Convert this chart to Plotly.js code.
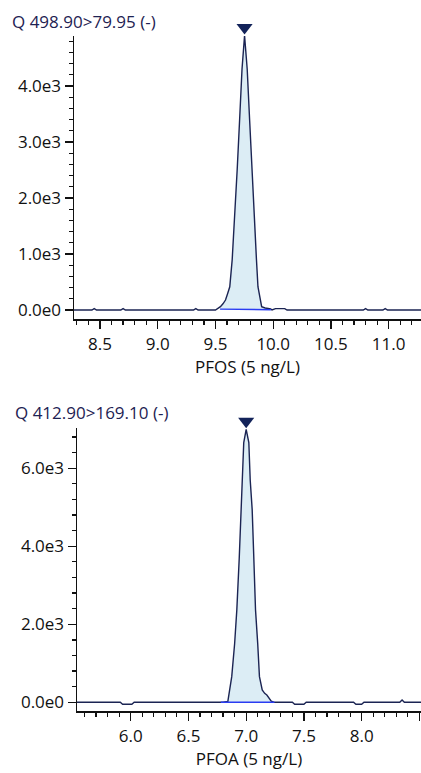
<!DOCTYPE html>
<html><head><meta charset="utf-8">
<script src="https://cdn.plot.ly/plotly-3.0.1.min.js"></script>
<style>html,body{margin:0;padding:0;background:#fff}#c{width:421px;height:773px}</style>
</head><body><div id="c"></div>
<script>
// PFOS chromatogram (retention time, min ; intensity)
const pfosTime = [8.27,8.43,8.45,8.47,8.68,8.70,8.72,9.31,9.33,9.35,9.50,9.526,9.543,9.565,9.587,9.605,9.624,9.645,9.665,9.688,9.709,9.73,9.752,9.775,9.796,9.817,9.839,9.855,9.868,9.877,9.891,9.90,9.93,9.978,9.99,10.0,10.02,10.10,10.12,10.78,10.80,10.82,10.95,10.97,10.99,11.28];
const pfosInt  = [0,0,25,0,0,25,0,0,25,0,0,30,60,110,178,290,415,900,1600,2500,3390,4300,4900,4300,3390,2400,1600,900,415,297,120,60,35,20,0,10,25,25,0,0,25,0,0,25,0,0];
const pfosBaseT = [9.54, 9.98];
const pfosBaseI = [15, 5];
const pfosTicks = [0,1000,2000,3000,4000];
const pfosTickText = ["0.0e0","1.0e3","2.0e3","3.0e3","4.0e3"];

// PFOA chromatogram
const pfoaTime = [5.535,5.91,5.93,6.01,6.03,6.80,6.841,6.855,6.875,6.90,6.919,6.94,6.959,6.979,7.0,7.023,7.035,7.052,7.065,7.081,7.10,7.115,7.139,7.16,7.179,7.20,7.217,7.245,7.40,7.42,7.50,7.52,7.93,7.95,8.00,8.02,8.33,8.35,8.37,8.514];
const pfoaInt  = [0,0,-50,-50,0,0,20,316,658,1500,2370,3700,4940,6660,7000,6660,5700,4940,3800,2370,1500,658,316,230,188,90,30,0,0,-50,-50,0,0,-50,-50,0,0,60,0,0];
const pfoaBaseT = [6.78, 7.245];
const pfoaBaseI = [0, 0];
const pfoaTicks = [0,2000,4000,6000];
const pfoaTickText = ["0.0e0","2.0e3","4.0e3","6.0e3"];

const titles = ["Q 498.90>79.95 (-)", "Q 412.90>169.10 (-)"];
const xTitles = ["PFOS (5 ng/L)", "PFOA (5 ng/L)"];

const navy = "#1b2453", fillC = "#dcedf5", blue = "#2a3cf2", font = "Open Sans, sans-serif";
const H = 773;

function peakTraces(t, v, bt, bi, xa, ya, ma, offPx, pxPerUnit) {
  const pt = [], pv = [];
  for (let i = 0; i < t.length; i++) if (t[i] >= bt[0] && t[i] <= bt[1]) { pt.push(t[i]); pv.push(Math.max(v[i], 0)); }
  let im = 0; for (let i = 1; i < v.length; i++) if (v[i] > v[im]) im = i;
  return [
    {x: pt, y: pv, xaxis: xa, yaxis: ya, mode: "lines", fill: "tozeroy", fillcolor: fillC, line: {width: 0}, hoverinfo: "skip"},
    {x: t, y: v, xaxis: xa, yaxis: ya, mode: "lines", line: {color: navy, width: 1.4}},
    {x: bt, y: bi, xaxis: xa, yaxis: ya, mode: "lines", line: {color: blue, width: 1.4}},
    {x: [t[im]], y: [v[im] + offPx / pxPerUnit], xaxis: xa, yaxis: ma, mode: "markers", cliponaxis: false,
     marker: {symbol: "triangle-down", size: 14, color: "#13235a", line: {width: 0}}}
  ];
}

// plot geometry (pixels from top)
const g1 = {bottom: 319, top: 36, range: [-161, 4893], markTop: 0};
const g2 = {bottom: 711, top: 428, range: [-223, 7033], markTop: 380};
function ppu(g) { return (g.bottom - g.top) / (g.range[1] - g.range[0]); }
function markRange(g) { return [g.range[0], g.range[0] + (g.bottom - g.markTop) / ppu(g)]; }

const data = [].concat(
  peakTraces(pfosTime, pfosInt, pfosBaseT, pfosBaseI, "x", "y", "y3", 8, ppu(g1)),
  peakTraces(pfoaTime, pfoaInt, pfoaBaseT, pfoaBaseI, "x2", "y2", "y4", 8, ppu(g2))
);

const tickFont = {family: font, size: 17, color: "#111"};
function xax(domain, range, title, anchor) {
  return {domain, range, anchor, showline: true, linecolor: "#111", linewidth: 1.5, showgrid: false, zeroline: false,
    ticks: "outside", ticklen: 8, tickwidth: 1.2, tickcolor: "#111", dtick: 0.5, tick0: 0, tickformat: ".1f",
    tickfont: tickFont, ticklabelstandoff: 1,
    minor: {ticks: "outside", ticklen: 4, tickwidth: 1.2, tickcolor: "#111", dtick: 0.1, tick0: 0},
    title: {text: title, font: {family: font, size: 17, color: "#111"}, standoff: 3}};
}
function yax(g, vals, texts, minorD, anchor) {
  return {domain: [1 - g.bottom / H, 1 - g.top / H], range: g.range, anchor, showline: true, linecolor: "#111", linewidth: 1.5,
    showgrid: false, zeroline: false,
    ticks: "outside", ticklen: 8, tickwidth: 1.2, tickcolor: "#111", tickmode: "array", tickvals: vals, ticktext: texts,
    tickfont: tickFont,
    minor: {ticks: "outside", ticklen: 4, tickwidth: 1.2, tickcolor: "#111", dtick: minorD, tick0: 0, tickmode: "linear"}};
}
function hiddenY(g, anchor) {
  return {domain: [1 - g.bottom / H, 1 - g.markTop / H], range: markRange(g), anchor, visible: false, showgrid: false, zeroline: false};
}

const layout = {
  width: 421, height: 773, margin: {l: 0, r: 0, t: 0, b: 0}, showlegend: false,
  paper_bgcolor: "#fff", plot_bgcolor: "rgba(0,0,0,0)",
  xaxis: xax([74/421, 1], [8.275, 11.28], xTitles[0], "y"),
  yaxis: yax(g1, pfosTicks, pfosTickText, 200, "x"),
  yaxis3: hiddenY(g1, "x"),
  xaxis2: xax([77/421, 1], [5.535, 8.514], xTitles[1], "y2"),
  yaxis2: yax(g2, pfoaTicks, pfoaTickText, 400, "x2"),
  yaxis4: hiddenY(g2, "x2"),
  annotations: [
    {text: titles[0], xref: "paper", yref: "paper", x: 10/421, y: 1 - 21/773, xanchor: "left", yanchor: "middle", showarrow: false,
     font: {family: font, size: 17, color: "#1e2252"}},
    {text: titles[1], xref: "paper", yref: "paper", x: 13/421, y: 1 - 412/773, xanchor: "left", yanchor: "middle", showarrow: false,
     font: {family: font, size: 17, color: "#1e2252"}}
  ]
};
Plotly.newPlot("c", data, layout, {staticPlot: true, displayModeBar: false});
</script></body></html>
